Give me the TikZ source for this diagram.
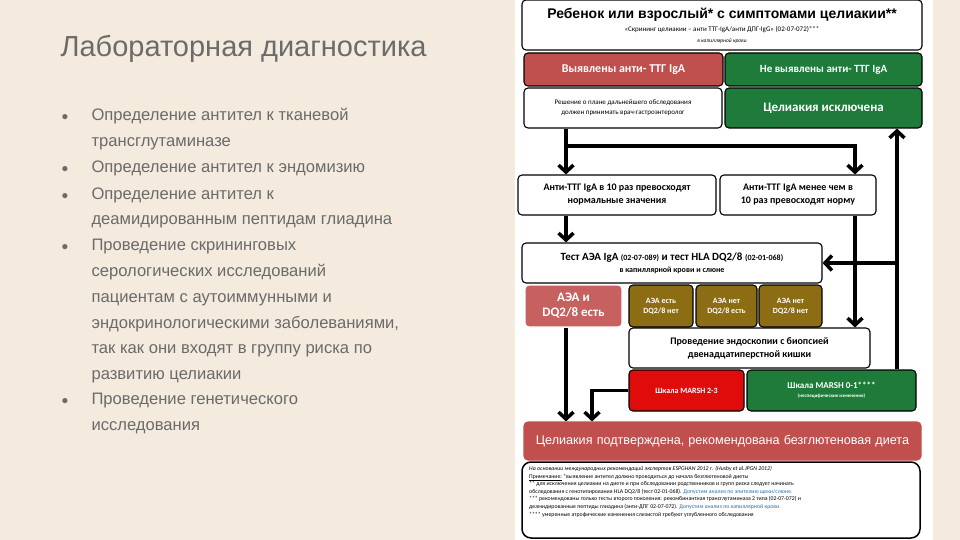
\documentclass[tikz,border=0pt]{standalone}
\usepackage{fontspec}
\setmainfont{Carlito}
\newfontfamily\leftfont{Liberation Sans}
\usetikzlibrary{arrows.meta}
\definecolor{bgbeige}{HTML}{F4EADD}
\definecolor{txtgrey}{HTML}{6B6B6B}
\definecolor{boxred}{HTML}{C0504D}
\definecolor{boxgreen}{HTML}{1E7B3A}
\definecolor{boxolive}{HTML}{8C6D14}
\definecolor{brightred}{HTML}{E00C0C}
\definecolor{linkblue}{HTML}{2F6FA8}
\tikzset{
    box/.style={draw=black, line width=1.1pt, rounded corners=4pt, inner sep=1pt, align=center},
    redbox/.style={box, fill=boxred, text=white, font=\bfseries\fontsize{12}{14}\selectfont},
    greenbox/.style={box, fill=boxgreen, text=white, font=\bfseries\fontsize{11}{13}\selectfont},
    olivebox/.style={box, fill=boxolive, text=white, font=\bfseries\fontsize{8}{10}\selectfont},
    whitebox/.style={box, fill=white, font=\bfseries\fontsize{10}{13}\selectfont},
    arr/.style={line width=3.5pt, -{Straight Barb[length=7pt,width=15pt,line width=3.5pt]}},
    bullet/.style={anchor=base west, text=txtgrey, font=\leftfont\fontsize{16.6}{18}\selectfont},
    dot/.style={anchor=base, text=txtgrey, font=\leftfont\fontsize{12}{12}\selectfont}
}
\begin{document}
\begin{tikzpicture}[x=1pt, y=-1pt]
    \useasboundingbox (0,0) rectangle (960,540);
    \fill[bgbeige] (0,0) rectangle (960,540);
    \fill[white] (515,0) rectangle (933,540);
    % left column
    \node[anchor=base west, text=txtgrey, font=\leftfont\fontsize{29}{32}\selectfont] (title) at (57,57) {Лабораторная диагностика};
    \node[dot] (d1) at (65,121) {●};
    \node[dot] (d2) at (65,173) {●};
    \node[dot] (d3) at (65,199) {●};
    \node[dot] (d4) at (65,250) {●};
    \node[dot] (d5) at (65,404) {●};
    \node[bullet] (t1) at (88,121) {Определение антител к тканевой};
    \node[bullet] (t1b) at (88,147) {трансглутаминазе};
    \node[bullet] (t2) at (88,173) {Определение антител к эндомизию};
    \node[bullet] (t3) at (88,199) {Определение антител к};
    \node[bullet] (t3b) at (88,224) {деамидированным пептидам глиадина};
    \node[bullet] (t4) at (88,250) {Проведение скрининговых};
    \node[bullet] (t4b) at (88,276) {серологических исследований};
    \node[bullet] (t4c) at (88,302) {пациентам с аутоиммунными и};
    \node[bullet] (t4d) at (88,328) {эндокринологическими заболеваниями,};
    \node[bullet] (t4e) at (88,353) {так как они входят в группу риска по};
    \node[bullet] (t4f) at (88,379) {развитию целиакии};
    \node[bullet] (t5) at (88,404) {Проведение генетического};
    \node[bullet] (t5b) at (88,430) {исследования};
    % flow chart
    \node[whitebox, minimum width=400pt, minimum height=50pt] (top) at (722,25) {};
    \node[font=\leftfont\bfseries\fontsize{14}{16}\selectfont] (toptitle) at (722,15) {Ребенок или взрослый* с симптомами целиакии**};
    \node[font=\fontsize{7}{8}\selectfont] (topsub) at (722,30) {«Скрининг целиакии – анти ТТГ-IgA/анти ДПГ-IgG» (02-07-072)***};
    \node[font=\itshape\fontsize{5.5}{6}\selectfont] (topnote) at (722,41) {в капиллярной крови};
    \node[redbox, minimum width=199pt, minimum height=33pt] (pos) at (623.5,69.5) {Выявлены анти- ТТГ IgA};
    \node[greenbox, minimum width=197pt, minimum height=33pt] (neg) at (823.5,69.5) {Не выявлены анти- ТТГ IgA};
    \node[box, fill=white, minimum width=198pt, minimum height=40pt, font=\fontsize{7}{10}\selectfont] (res) at (623,108) {Решение о плане дальнейшего обследования\\должен принимать врач-гастроэнтеролог};
    \node[greenbox, minimum width=197pt, minimum height=40pt, font=\bfseries\fontsize{13}{15}\selectfont] (excl) at (823.5,108) {Целиакия исключена};
    \node[whitebox, minimum width=198pt, minimum height=40pt] (hi) at (617,195) {Анти-ТТГ IgA в 10 раз превосходят\\нормальные значения};
    \node[whitebox, minimum width=156pt, minimum height=40pt] (lo) at (798,195) {Анти-ТТГ IgA менее чем в\\10 раз превосходят норму};
    \node[whitebox, minimum width=300pt, minimum height=40pt] (test) at (672,263) {\fontsize{11}{13}\selectfont Тест АЭА IgA {\fontsize{8}{10}\selectfont(02-07-089)} и тест HLA DQ2/8 {\fontsize{8}{10}\selectfont(02-01-068)}\\[-1pt]{\fontsize{8}{10}\selectfont в капиллярной крови и слюне}};
    \node[redbox, fill=boxred!90!white, draw=white, minimum width=97pt, minimum height=42pt, font=\bfseries\fontsize{13}{15}\selectfont] (aeapos) at (573.5,306) {АЭА и\\DQ2/8 есть};
    \node[olivebox, minimum width=64pt, minimum height=42pt] (ol1) at (661,306) {АЭА есть\\DQ2/8 нет};
    \node[olivebox, minimum width=61pt, minimum height=42pt] (ol2) at (726.5,306) {АЭА нет\\DQ2/8 есть};
    \node[olivebox, minimum width=63pt, minimum height=42pt] (ol3) at (790.5,306) {АЭА нет\\DQ2/8 нет};
    \node[whitebox, minimum width=241pt, minimum height=40pt] (endo) at (749.5,348) {Проведение эндоскопии с биопсией\\двенадцатиперстной кишки};
    \node[box, fill=brightred, text=white, minimum width=115pt, minimum height=41pt, font=\bfseries\fontsize{8}{10}\selectfont] (m23) at (686.5,390.5) {Шкала MARSH 2-3};
    \node[greenbox, minimum width=169pt, minimum height=41pt, font=\bfseries\fontsize{9}{11}\selectfont] (m01) at (831.5,390.5) {Шкала MARSH 0-1****\\[-2pt]{\fontsize{5}{6}\selectfont(неспецифические изменения)}};
    \node[box, draw=boxred, fill=boxred, text=white, text width=390pt, minimum width=397pt, minimum height=38pt, font=\leftfont\fontsize{12.6}{15}\selectfont] (diag) at (722.5,441) {Целиакия подтверждена, рекомендована безглютеновая диета};
    \node[box, fill=white, line width=1.5pt, rounded corners=9pt, minimum width=398pt, minimum height=76pt] (notes) at (721,500) {};
    \node[anchor=north west, align=left, font=\fontsize{5.8}{7.6}\selectfont, inner sep=0pt] (notetext) at (529,466) {%
        \textit{На основании международных рекомендаций экспертов ESPGHAN 2012 г. (Husby et al.JPGN 2012)}\\
        \underline{Примечание:} *выявление антител должно проводиться до начала безглютеновой диеты\\
        ** для исключения целиакии на диете и при обследовании родственников и групп риска следует начинать\\
        обследования с генотипирования HLA DQ2/8 (тест 02-01-068). \textcolor{linkblue}{Допустим анализ по эпителию щеки/слюне.}\\
        *** рекомендованы только тесты второго поколения: рекомбинантная трансглутаминаза 2 типа (02-07-072) и\\
        деамидированные пептиды глиадина (анти-ДПГ 02-07-072). \textcolor{linkblue}{Допустим анализ по капиллярной крови.}\\
        **** умеренные атрофические изменения слизистой требуют углубленного обследования};
    % connectors
    \coordinate (cl) at (566,0);
    \coordinate (cr) at (855,0);
    \coordinate (cu) at (897,0);
    \coordinate (cm) at (592,0);
    \coordinate (ybr) at (0,146);
    \draw[arr] (res.south -| cl) -- (hi.north -| cl);
    \draw[arr] (cl |- ybr) -| (lo.north -| cr);
    \draw[arr] (hi.south -| cl) -- (test.north -| cl);
    \draw[arr] (lo.south -| cr) -- (endo.north -| cr);
    \draw[arr] (aeapos.south -| cl) -- (diag.north -| cl);
    \draw[arr] (m23.west) -| (diag.north -| cm);
    \draw[arr] (m01.north -| cu) -- (excl.south -| cu);
    \draw[arr] (cu |- test.east) -- (test.east);
\end{tikzpicture}
\end{document}
